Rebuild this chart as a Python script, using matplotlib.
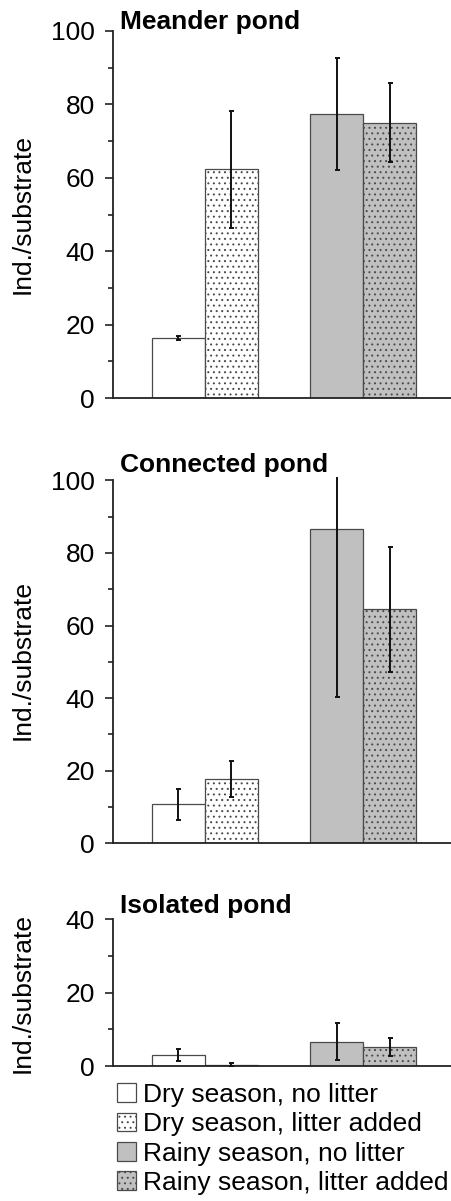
import matplotlib
matplotlib.use("Agg")
import matplotlib.pyplot as plt
import matplotlib.patches as mpatches
from matplotlib.ticker import MultipleLocator

plt.rcParams['font.family'] = ['Liberation Sans', 'DejaVu Sans']
plt.rcParams['hatch.linewidth'] = 0.7
plt.rcParams['hatch.color'] = '#333333'

series = ["Dry season, no litter", "Dry season, litter added",
          "Rainy season, no litter", "Rainy season, litter added"]
ponds = ["Meander pond", "Connected pond", "Isolated pond"]

# values per pond: [dry-no, dry-litter, rainy-no, rainy-litter]
meander_vals = [16.3, 62.3, 77.3, 75.0]
meander_lo = [15.8, 46.3, 62.2, 64.2]
meander_hi = [16.8, 78.2, 92.6, 85.8]

connected_vals = [10.7, 17.7, 86.5, 64.5]
connected_lo = [6.5, 12.7, 40.4, 47.3]
connected_hi = [14.9, 22.8, 132.6, 81.7]

isolated_vals = [2.9, 0.35, 6.6, 5.3]
isolated_lo = [1.3, 0.0, 1.5, 2.8]
isolated_hi = [4.6, 0.8, 11.7, 7.6]

ylims = [100, 100, 40]

W, H = 452, 1201
fig = plt.figure(figsize=(W / 100, H / 100), dpi=100)

# axes boxes in pixel coords (left, top, right, bottom)
boxes = [(113, 31, 452, 398), (113, 476.7, 452, 843.3), (113, 919.3, 452, 1066)]
title_y = [29, 471.5, 913.3]

fills = ['white', 'white', '#c0c0c0', '#c0c0c0']
hatches = [None, '...', None, '...']
bw = 53 / 158
# group centres: dry = 0, rainy = 1
xpos = [0 - bw / 2, 0 + bw / 2, 1 - bw / 2, 1 + bw / 2]

data = [(meander_vals, meander_lo, meander_hi),
        (connected_vals, connected_lo, connected_hi),
        (isolated_vals, isolated_lo, isolated_hi)]

FS = 19
for i, (vals, lo, hi) in enumerate(data):
    l, t, r, b = boxes[i]
    ax = fig.add_axes([l / W, 1 - b / H, (r - l) / W, (b - t) / H])
    for j in range(4):
        ax.bar(xpos[j], vals[j], width=bw, color=fills[j], hatch=hatches[j],
               edgecolor='#4a4a4a', linewidth=0.9, zorder=2)
    yerr = [[v - a for v, a in zip(vals, lo)], [c - v for v, c in zip(vals, hi)]]
    ax.errorbar(xpos, vals, yerr=yerr, fmt='none', ecolor='#111111',
                elinewidth=1.4, capsize=1.8, capthick=1.4, zorder=3)
    top = ylims[i]
    ax.set_ylim(0, top * 1.01 if i == 1 else top)
    ax.spines['left'].set_bounds(0, top)
    ax.set_xlim(-0.582, 1.563)
    ax.spines['top'].set_visible(False)
    ax.spines['right'].set_visible(False)
    for s in ['left', 'bottom']:
        ax.spines[s].set_linewidth(1.3)
        ax.spines[s].set_color('#222222')
    ax.yaxis.set_major_locator(MultipleLocator(20))
    ax.yaxis.set_minor_locator(MultipleLocator(10))
    ax.tick_params(axis='y', which='major', length=6, width=1.2, labelsize=FS,
                   color='#222222', pad=7)
    ax.tick_params(axis='y', which='minor', length=3.4, width=1.2, color='#222222')
    ax.set_xticks([])
    fig.text(120 / W, 1 - title_y[i] / H, ponds[i], fontsize=FS,
             fontweight='bold', ha='left', va='baseline')
    fig.text(22.5 / W, 1 - (t + b) / 2 / H, "Ind./substrate", fontsize=FS,
             rotation=90, ha='center', va='center')

handles = [mpatches.Patch(facecolor=fills[j], hatch=hatches[j], edgecolor='#4a4a4a',
                          linewidth=0.9) for j in range(4)]
fig.legend(handles, series, loc='upper left', bbox_to_anchor=(117 / W, 1 - 1083 / H),
           frameon=False, fontsize=FS, handlelength=0.72, handleheight=0.72,
           handletextpad=0.25, labelspacing=0.2, borderpad=0, borderaxespad=0)

fig.savefig("out.png", dpi=100)
